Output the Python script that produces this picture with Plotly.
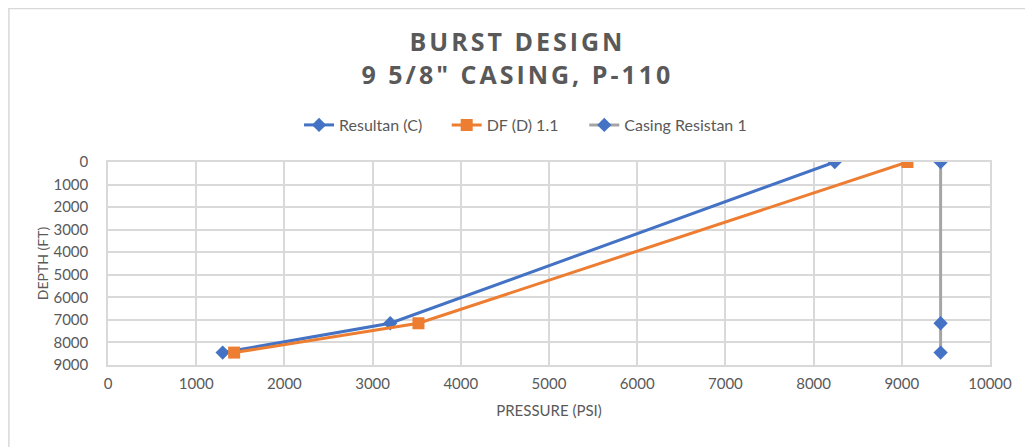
import plotly.graph_objects as go

# depth (ft) vs pressure (psi)
depth = [0, 7150, 8450]
resultan_c = [8240, 3200, 1300]
df_d = [9064, 3520, 1430]
casing_resistan = [9440, 9440, 9440]

GRAY_TEXT = "#595959"
GRID = "#d9d9d9"

fig = go.Figure()

fig.add_trace(go.Scatter(
    x=resultan_c, y=depth,
    mode="lines+markers",
    name="Resultan (C)",
    line=dict(color="#4472C4", width=3),
    marker=dict(symbol="diamond", size=11, color="#4472C4"),
    legend="legend",
))

fig.add_trace(go.Scatter(
    x=df_d, y=depth,
    mode="lines+markers",
    name="DF (D) 1.1",
    line=dict(color="#ED7D31", width=3),
    marker=dict(symbol="square", size=12, color="#ED7D31"),
    legend="legend2",
))

fig.add_trace(go.Scatter(
    x=casing_resistan, y=depth,
    mode="lines+markers",
    name="Casing Resistan 1",
    line=dict(color="#A5A5A5", width=3),
    marker=dict(symbol="diamond", size=11, color="#4472C4"),
    legend="legend3",
))

# outer chart border (page body adds an 8px offset)
fig.add_shape(
    type="rect", xref="paper", yref="paper",
    x0=-100 / 882 + 0.001, x1=1.2, y0=-0.6, y1=1 + 154 / 203 - 0.003,
    line=dict(color="#d9d9d9", width=1.5), layer="below",
)

title_text = (
    '<span style="letter-spacing:3px">BURST DESIGN</span><br>'
    '<span style="letter-spacing:3px">9 5/8" CASING, P-110</span>'
)

legend_style = dict(
    orientation="h", xanchor="left", y=1 + 37 / 203, yanchor="middle",
    font=dict(size=16, color=GRAY_TEXT), bgcolor="rgba(0,0,0,0)",
)

fig.update_layout(
    width=1025, height=439,
    paper_bgcolor="white", plot_bgcolor="white",
    margin=dict(l=100, r=43, t=154, b=82),
    font=dict(family="Lato, Open Sans, sans-serif", color=GRAY_TEXT, size=15),
    title=dict(
        text=title_text,
        x=0.497, xanchor="center", y=1 - 43 / 439, yanchor="middle",
        font=dict(size=25, color=GRAY_TEXT, family="Open Sans, sans-serif", weight="bold"),
    ),
    legend=dict(x=0.2166, **legend_style),
    legend2=dict(x=0.384, **legend_style),
    legend3=dict(x=0.540, **legend_style),
    showlegend=True,
)

fig.update_xaxes(
    range=[0, 10000], dtick=1000, tickformat="d",
    showgrid=True, gridcolor=GRID, gridwidth=1.5,
    showline=True, linecolor=GRID, linewidth=1.5, mirror=True,
    zeroline=False, ticklabelstandoff=4,
    tickfont=dict(size=15, color=GRAY_TEXT),
    title=dict(text="PRESSURE (PSI)", font=dict(size=15, color=GRAY_TEXT), standoff=15),
)

fig.update_yaxes(
    range=[9000, 0], dtick=1000, tickformat="d",
    showgrid=True, gridcolor=GRID, gridwidth=1.5,
    showline=True, linecolor=GRID, linewidth=1.5, mirror=True,
    zeroline=False, ticklabelstandoff=15,
    tickfont=dict(size=15, color=GRAY_TEXT),
    title=dict(text="DEPTH (FT)", font=dict(size=14, color=GRAY_TEXT), standoff=2),
)

fig.write_html("out.html")
